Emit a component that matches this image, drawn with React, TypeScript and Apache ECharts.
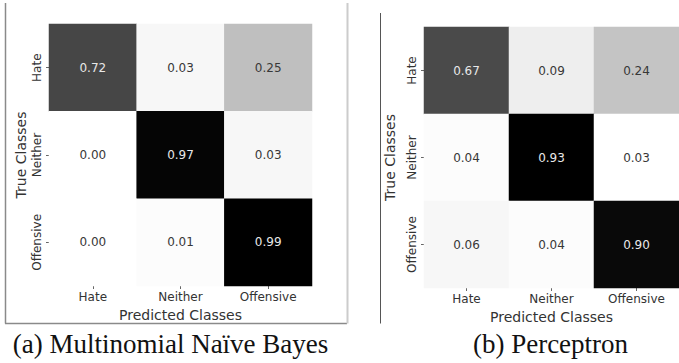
import React, { useEffect, useRef } from "react";
import * as echarts from "echarts";

const classes = ["Hate", "Neither", "Offensive"];
const nbValues = [
  [0.72, 0.03, 0.25],
  [0.0, 0.97, 0.03],
  [0.0, 0.01, 0.99],
];
const perceptronValues = [
  [0.67, 0.09, 0.24],
  [0.04, 0.93, 0.03],
  [0.06, 0.04, 0.9],
];
const captions = ["(a) Multinomial Naïve Bayes", "(b) Perceptron"];
const xAxisName = "Predicted Classes";
const yAxisName = "True Classes";

const FONT = "DejaVu Sans";

function toData(values: number[][], min: number, max: number) {
  const out: any[] = [];
  values.forEach((row, yi) => {
    row.forEach((v, xi) => {
      const t = (v - min) / (max - min);
      out.push({
        value: [xi, yi, v],
        label: { color: t > 0.5 ? "#e8e8e8" : "#383838" },
      });
    });
  });
  return out;
}

function xAxisOf(gridIndex: number) {
  return {
    type: "category",
    gridIndex,
    data: classes,
    name: xAxisName,
    nameLocation: "middle",
    nameGap: 20,
    nameTextStyle: { fontFamily: FONT, fontSize: 14, color: "#333" },
    axisLine: { show: false },
    axisTick: { show: true, alignWithLabel: true, length: 3, lineStyle: { color: "#666" } },
    axisLabel: { fontFamily: FONT, fontSize: 12, color: "#333", margin: 5 },
    splitLine: { show: false },
  };
}

function yAxisOf(gridIndex: number, nameGap: number) {
  return {
    type: "category",
    gridIndex,
    data: classes,
    inverse: true,
    name: yAxisName,
    nameLocation: "middle",
    nameGap,
    nameRotate: 90,
    nameTextStyle: { fontFamily: FONT, fontSize: 14, color: "#333" },
    axisLine: { show: false },
    axisTick: { show: true, alignWithLabel: true, length: 3, lineStyle: { color: "#666" } },
    axisLabel: { fontFamily: FONT, fontSize: 12, color: "#333", rotate: 90, margin: 6 },
    splitLine: { show: false },
  };
}

export default function App() {
  const ref = useRef<HTMLDivElement>(null);
  useEffect(() => {
    if (!ref.current) return;
    const chart = echarts.init(ref.current, undefined, { renderer: "svg" });
    const nbMin = 0, nbMax = 0.99;
    const pMin = 0.03, pMax = 0.93;
    chart.setOption({
      animation: false,
      grid: [
        { left: 49, top: 24, width: 263, height: 262 },
        { left: 424, top: 27, width: 261, height: 261 },
      ],
      xAxis: [xAxisOf(0), xAxisOf(1)],
      yAxis: [yAxisOf(0, 21), yAxisOf(1, 27)],
      visualMap: [
        { show: false, type: "continuous", seriesIndex: 0, min: nbMin, max: nbMax, dimension: 2, inRange: { color: ["#ffffff", "#000000"] } },
        { show: false, type: "continuous", seriesIndex: 1, min: pMin, max: pMax, dimension: 2, inRange: { color: ["#ffffff", "#000000"] } },
      ],
      series: [
        {
          type: "heatmap",
          xAxisIndex: 0,
          yAxisIndex: 0,
          data: toData(nbValues, nbMin, nbMax),
          label: { show: true, fontFamily: FONT, fontSize: 12, formatter: (p: any) => p.value[2].toFixed(2) },
          itemStyle: { borderWidth: 0 },
        },
        {
          type: "heatmap",
          xAxisIndex: 1,
          yAxisIndex: 1,
          data: toData(perceptronValues, pMin, pMax),
          label: { show: true, fontFamily: FONT, fontSize: 12, formatter: (p: any) => p.value[2].toFixed(2) },
          itemStyle: { borderWidth: 0 },
        },
      ],
      graphic: [
        { type: "line", shape: { x1: 5.5, y1: 3, x2: 5.5, y2: 323.5 }, style: { stroke: "#8a8a8a", lineWidth: 1.5 } },
        { type: "line", shape: { x1: 5, y1: 323.5, x2: 347, y2: 323.5 }, style: { stroke: "#8a8a8a", lineWidth: 1.5 } },
        { type: "line", shape: { x1: 347.5, y1: 3, x2: 347.5, y2: 323.5 }, style: { stroke: "#cccccc", lineWidth: 2 } },
        { type: "line", shape: { x1: 380.5, y1: 13, x2: 380.5, y2: 323.5 }, style: { stroke: "#555555", lineWidth: 1 } },
        {
          type: "text",
          x: 170.5,
          y: 344,
          style: { text: captions[0], font: '27px "Liberation Serif"', fill: "#111", align: "center", verticalAlign: "middle" },
        },
        {
          type: "text",
          x: 550.5,
          y: 344,
          style: { text: captions[1], font: '27px "Liberation Serif"', fill: "#111", align: "center", verticalAlign: "middle" },
        },
      ],
    });
    return () => chart.dispose();
  }, []);
  return (
    <div
      ref={ref}
      style={{ position: "fixed", left: 0, top: 0, width: 679, height: 363, background: "#fff" }}
    />
  );
}
